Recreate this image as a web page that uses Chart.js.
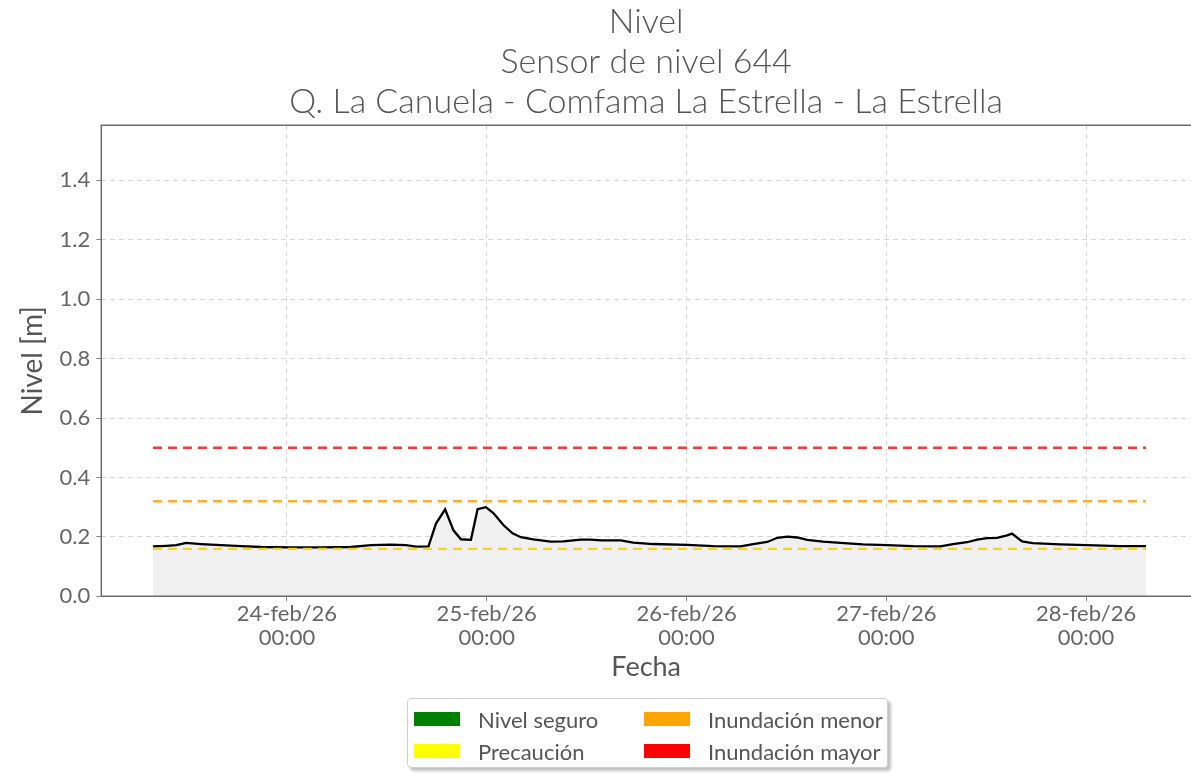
<!DOCTYPE html>
<html>
<head>
<meta charset="utf-8">
<script src="https://cdn.jsdelivr.net/npm/chart.js@4.4.1/dist/chart.umd.min.js"></script>
<style>
  body { margin: 0; background: #fff; font-family: Lato, "Open Sans", sans-serif; }
  #wrap { position: relative; width: 1191px; height: 774px; }
  #legend {
    position: absolute; left: 407px; top: 698px; width: 481px; height: 70px;
    border: 1px solid #cfcfcf; border-radius: 4px; background: #fff;
    box-shadow: 3px 3px 3px rgba(0,0,0,0.25);
    display: grid; grid-template-columns: 230px 246px; grid-auto-rows: 32px;
    padding-top: 4px; box-sizing: border-box; color: #555; font-size: 22px;
  }
  #legend div { display: flex; align-items: center; }
  #legend span.sw { display: inline-block; width: 46px; height: 14px; margin: 0 18px 0 6px; }
</style>
</head>
<body>
<div id="wrap">
  <canvas id="chart" width="1191" height="774"></canvas>
  <div id="legend"></div>
</div>
<script>
// horas desde 24-feb/26 00:00
var horas = [-16.1, -14.5, -13.3, -12.1, -10.3, -7.9, -5.5, -3.1, 0.5, 4.1, 7.7, 10.1, 12.5, 14.3,
  15.5, 17.0, 17.9, 19.0, 20.0, 20.9, 22.1, 22.9, 23.9, 24.8, 26.0, 27.1, 28.1, 29.6, 31.7, 33.2,
  35.3, 36.5, 37.7, 40.1, 41.6, 44.0, 48.1, 51.2, 54.5, 56.0, 57.7, 58.9, 60.1, 61.3, 62.5, 64.4,
  66.5, 69.2, 72.1, 75.2, 78.5, 80.0, 81.7, 82.9, 84.1, 85.3, 86.5, 87.1, 88.3, 89.6, 92.9, 96.1,
  100.1, 103.2];
var nivel = [0.168, 0.170, 0.172, 0.180, 0.176, 0.172, 0.169, 0.166, 0.165, 0.165, 0.166, 0.172, 0.174, 0.172,
  0.167, 0.168, 0.245, 0.293, 0.222, 0.192, 0.190, 0.293, 0.300, 0.280, 0.240, 0.212, 0.199, 0.192, 0.184, 0.185,
  0.191, 0.191, 0.188, 0.188, 0.181, 0.176, 0.173, 0.169, 0.168, 0.176, 0.183, 0.197, 0.201, 0.198, 0.190, 0.184,
  0.180, 0.175, 0.172, 0.169, 0.168, 0.176, 0.182, 0.191, 0.196, 0.197, 0.205, 0.211, 0.185, 0.179, 0.175, 0.172,
  0.169, 0.169];

var umbrales = [0.16, 0.32, 0.50];
var umbralColores = ['#f7d31e', '#ffac33', '#f43a3a'];

var xTicks = [0, 24, 48, 72, 96];
var xTickLabels = [['24-feb/26', '00:00'], ['25-feb/26', '00:00'], ['26-feb/26', '00:00'],
  ['27-feb/26', '00:00'], ['28-feb/26', '00:00']];
var yTicks = [0, 0.2, 0.4, 0.6, 0.8, 1.0, 1.2, 1.4];

var leyendaNombres = ['Nivel seguro', 'Inundación menor', 'Precaución', 'Inundación mayor'];
var leyendaColores = ['#008000', '#ffa500', '#ffff00', '#ff0000'];

var tituloLineas = ['Nivel', 'Sensor de nivel 644', 'Q. La Canuela - Comfama La Estrella - La Estrella'];

var serie = horas.map(function (h, i) { return { x: h, y: nivel[i] }; });
var x0 = horas[0], x1 = horas[horas.length - 1];

var datasets = [{
  data: serie,
  borderColor: '#000',
  borderWidth: 2.3,
  backgroundColor: '#f0f0f0',
  fill: 'origin',
  pointRadius: 0,
  tension: 0,
  order: 1
}];
umbrales.forEach(function (u, i) {
  datasets.push({
    data: [{ x: x0, y: u }, { x: x1, y: u }],
    borderColor: umbralColores[i],
    borderWidth: 2.3,
    borderDash: [9, 6],
    pointRadius: 0,
    fill: false,
    order: 0
  });
});

// marco izquierdo, superior e inferior
var marco = {
  id: 'marco',
  afterDraw: function (chart) {
    var a = chart.chartArea, ctx = chart.ctx;
    ctx.save();
    ctx.strokeStyle = '#6b6b6b';
    ctx.lineWidth = 1.5;
    ctx.beginPath();
    ctx.moveTo(a.right + 2, a.top);
    ctx.lineTo(a.left, a.top);
    ctx.lineTo(a.left, a.bottom);
    ctx.lineTo(a.right + 2, a.bottom);
    ctx.stroke();
    ctx.restore();
  }
};

var legend = document.getElementById('legend');
leyendaNombres.forEach(function (n, i) {
  var d = document.createElement('div');
  d.innerHTML = '<span class="sw" style="background:' + leyendaColores[i] + '"></span>' + n;
  legend.appendChild(d);
});

new Chart(document.getElementById('chart'), {
  type: 'line',
  data: { datasets: datasets },
  plugins: [marco],
  options: {
    responsive: false,
    animation: false,
    layout: { padding: { left: 12, right: -2, top: 2, bottom: 87 } },
    plugins: {
      legend: { display: false },
      tooltip: { enabled: false },
      title: {
        display: true,
        fullSize: false,
        text: tituloLineas,
        color: '#555',
        font: { family: 'Lato', size: 34, weight: '300', lineHeight: 1.18 },
        padding: { top: 0, bottom: 3 }
      }
    },
    scales: {
      x: {
        type: 'linear',
        min: -22.3,
        max: 108.6,
        afterBuildTicks: function (s) { s.ticks = xTicks.map(function (v) { return { value: v }; }); },
        ticks: {
          color: '#666',
          font: { family: 'Lato', size: 22, lineHeight: 1.12 },
          maxRotation: 0,
          padding: 0,
          callback: function (v) { return xTickLabels[xTicks.indexOf(v)]; }
        },
        grid: { color: '#d6d6d6', tickColor: '#888', tickLength: 5, drawOnChartArea: true },
        border: { display: false, dash: [5, 4] },
        title: { display: true, text: 'Fecha', color: '#555', font: { family: 'Lato', size: 27 }, padding: { top: 0 } }
      },
      y: {
        min: 0,
        max: 1.585,
        afterBuildTicks: function (s) { s.ticks = yTicks.map(function (v) { return { value: v }; }); },
        ticks: {
          color: '#666',
          font: { family: 'Lato', size: 22 },
          padding: 6,
          callback: function (v) { return v.toFixed(1); }
        },
        grid: { color: '#d6d6d6', tickColor: '#888', tickLength: 5 },
        border: { display: false, dash: [5, 4] },
        title: { display: true, text: 'Nivel [m]', color: '#555', font: { family: 'Lato', size: 28 }, padding: { bottom: 4 } }
      }
    }
  }
});
</script>
</body>
</html>
